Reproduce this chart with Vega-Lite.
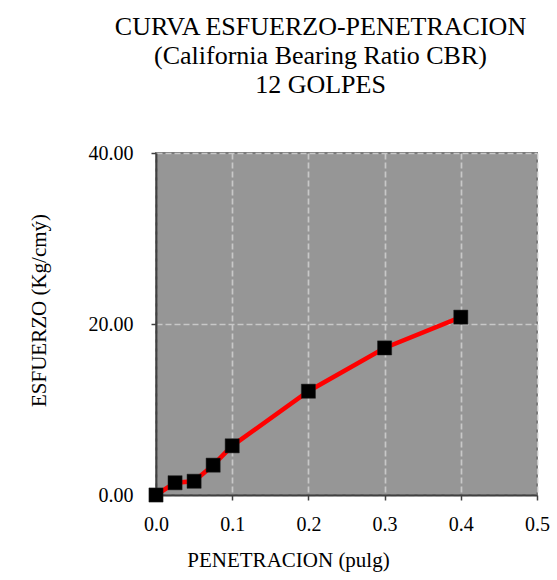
{
  "$schema": "https://vega.github.io/schema/vega-lite/v6.json",
  "width": 381,
  "height": 342,
  "autosize": "none",
  "padding": {"left": 156, "top": 153, "right": 20, "bottom": 85},
  "background": "white",
  "title": {
    "text": ["CURVA ESFUERZO-PENETRACION", "(California Bearing Ratio CBR)", "12 GOLPES"],
    "font": "'Liberation Serif', 'Times New Roman', Times, serif",
    "fontSize": 26,
    "fontWeight": "normal",
    "color": "#000000",
    "lineHeight": 29,
    "anchor": "middle",
    "frame": "group",
    "dx": -26,
    "offset": 45
  },
  "data": {
    "values": [
      {"penetracion": 0.0, "esfuerzo": 0.0},
      {"penetracion": 0.025, "esfuerzo": 1.43},
      {"penetracion": 0.05, "esfuerzo": 1.61},
      {"penetracion": 0.075, "esfuerzo": 3.49},
      {"penetracion": 0.1, "esfuerzo": 5.75},
      {"penetracion": 0.2, "esfuerzo": 12.14},
      {"penetracion": 0.3, "esfuerzo": 17.2},
      {"penetracion": 0.4, "esfuerzo": 20.8}
    ]
  },
  "encoding": {
    "x": {
      "field": "penetracion",
      "type": "quantitative",
      "scale": {"domain": [0, 0.5], "nice": false, "zero": true},
      "axis": {
        "title": "PENETRACION (pulg)",
        "values": [0, 0.1, 0.2, 0.3, 0.4, 0.5],
        "format": ".1f",
        "labelFlush": false,
        "labelOverlap": false,
        "titleX": 132,
        "titleY": 71,
        "titleBaseline": "alphabetic",
        "titleAlign": "center",
        "labelPadding": 14,
        "tickSize": 5
      }
    },
    "y": {
      "field": "esfuerzo",
      "type": "quantitative",
      "scale": {"domain": [0, 40], "nice": false},
      "axis": {
        "title": "ESFUERZO (Kg/cmý)",
        "values": [0, 20, 40],
        "format": ".2f",
        "labelFlush": false,
        "labelOverlap": false,
        "titleX": -111,
        "titleY": 157,
        "titleAngle": -90,
        "titleBaseline": "alphabetic",
        "titleAlign": "center",
        "labelPadding": 18,
        "tickSize": 5
      }
    }
  },
  "layer": [
    {
      "mark": {"type": "line", "color": "#ff0000", "strokeWidth": 4.5, "clip": false}
    },
    {
      "mark": {"type": "point", "shape": "square", "filled": true, "size": 200, "color": "#000000", "opacity": 1, "stroke": "#222222", "strokeWidth": 0.5, "clip": false}
    }
  ],
  "config": {
    "view": {"fill": "#969696", "stroke": "#7a7a7a", "strokeWidth": 2},
    "axis": {
      "labelFont": "'Liberation Serif', 'Times New Roman', Times, serif",
      "labelFontSize": 20,
      "labelColor": "#000000",
      "titleFont": "'Liberation Serif', 'Times New Roman', Times, serif",
      "titleFontSize": 21,
      "titleFontWeight": "normal",
      "titleColor": "#000000",
      "domainColor": "#404040",
      "domainWidth": 2,
      "tickColor": "#404040",
      "tickWidth": 1.5,
      "gridColor": "#c8c8c8",
      "gridWidth": 1.7,
      "gridDash": [6, 3],
      "gridOpacity": 1
    }
  }
}
